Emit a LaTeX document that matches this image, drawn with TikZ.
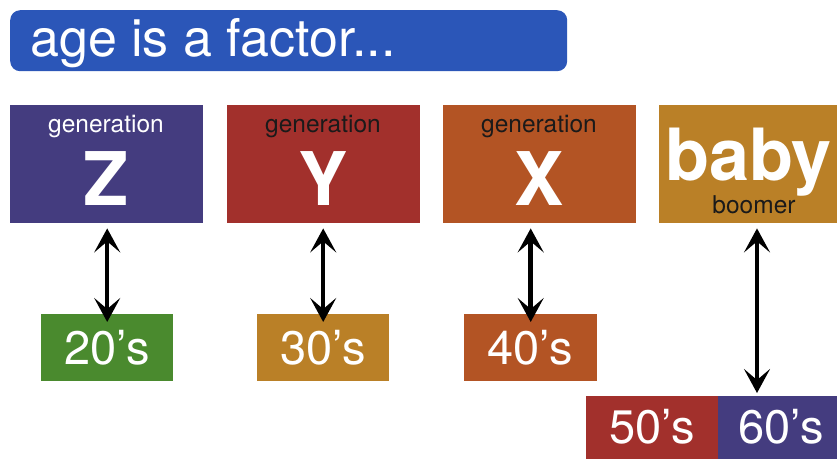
\documentclass[tikz,border=0pt]{standalone}
\usepackage{fontspec}
\setmainfont{TeX Gyre Heros}
\usetikzlibrary{arrows.meta}
\definecolor{titleblue}{HTML}{2B56B8}
\definecolor{zpurple}{HTML}{443C7F}
\definecolor{yred}{HTML}{A2302C}
\definecolor{xrust}{HTML}{B35424}
\definecolor{bbgold}{HTML}{BA8027}
\definecolor{tgreen}{HTML}{4A8A2E}
\definecolor{inkdark}{HTML}{1A1A1A}
\newcommand{\fsz}[1]{\fontsize{#1}{#1}\selectfont}

\begin{document}
\begin{tikzpicture}[x=1pt,y=-1pt, inner sep=0pt,
  genbox/.style={rectangle, anchor=north west, minimum width=193pt, minimum height=118pt},
  decbox/.style={rectangle, anchor=north west, minimum width=132pt, minimum height=67pt},
  small/.style={anchor=base, font=\fsz{24.5}},
  big/.style={anchor=base, text=white, font=\fsz{74}\bfseries},
  dec/.style={anchor=base, text=white, font=\fsz{47}},
  agearrow/.style={{Stealth[length=24pt,width=26pt,inset=11pt]}-{Stealth[length=24pt,width=26pt,inset=11pt]},
    line width=4.5pt, black}]
\useasboundingbox (0,0) rectangle (837,459);

\node (title) [rectangle, fill=titleblue, rounded corners=10pt, anchor=north west,
  minimum width=557pt, minimum height=61pt] at (10,10) {};
\node (titletext) [anchor=base west, text=white, font=\fsz{52}] at (30,56) {age is a factor...};

\node (genZ) [genbox, fill=zpurple] at (10,105) {};
\node (genY) [genbox, fill=yred] at (227,105) {};
\node (genX) [genbox, fill=xrust] at (443,105) {};
\node (genB) [genbox, fill=bbgold, minimum width=178pt] at (659,105) {};

\node (zsmall) [small, text=white] at (106,132) {generation};
\node (zbig) [big] at (106,205) {Z};
\node (ysmall) [small, text=inkdark] at (323,132) {generation};
\node (ybig) [big] at (323,205) {Y};
\node (xsmall) [small, text=inkdark] at (539,132) {generation};
\node (xbig) [big] at (539,205) {X};
\node (bbbig) [anchor=base west, text=white, font=\fsz{72}\bfseries] at (665,180) {baby};
\node (bbsmall) [small, text=inkdark] at (754,213) {boomer};

\node (d20) [decbox, fill=tgreen] at (41,314) {};
\node (d30) [decbox, fill=bbgold] at (257,314) {};
\node (d40) [decbox, fill=xrust, minimum width=133pt] at (464,314) {};
\node (d50) [decbox, fill=yred, minimum height=63pt] at (586,396) {};
\node (d60) [decbox, fill=zpurple, minimum width=119pt, minimum height=63pt] at (718,396) {};

\node (t20) [dec] at (107,364) {20’s};
\node (t30) [dec] at (323,364) {30’s};
\node (t40) [dec] at (530,364) {40’s};
\node (t50) [dec] at (652,443) {50’s};
\node (t60) [dec] at (781,443) {60’s};

\coordinate (bbfoot) at (757,393);
\draw[agearrow] ([yshift=-5pt]d20.north |- genZ.south) -- ([yshift=-8pt]d20.north);
\draw[agearrow] ([yshift=-5pt]d30.north |- genY.south) -- ([yshift=-8pt]d30.north);
\draw[agearrow] ([yshift=-5pt]d40.north |- genX.south) -- ([yshift=-8pt]d40.north);
\draw[agearrow] ([yshift=-5pt]bbfoot |- genB.south) -- (bbfoot);
\end{tikzpicture}
\end{document}
